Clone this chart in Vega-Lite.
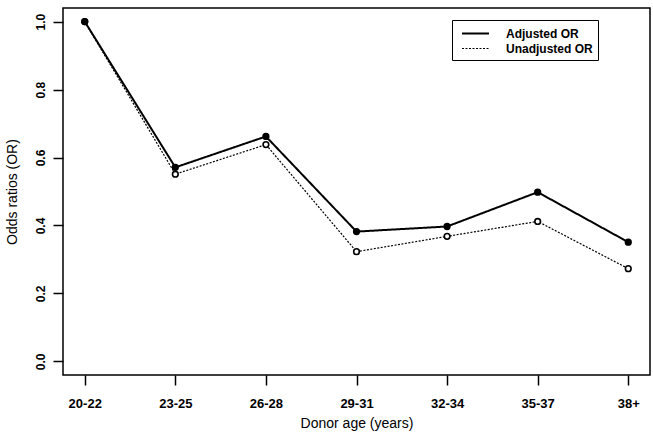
{
  "$schema": "https://vega.github.io/schema/vega-lite/v6.json",
  "width": 587,
  "height": 367,
  "autosize": {"type": "none"},
  "padding": {"left": 63, "top": 8, "right": 3, "bottom": 58},
  "background": "white",
  "config": {
    "view": {"stroke": "black", "strokeWidth": 1.5},
    "font": "Liberation Sans",
    "axis": {
      "grid": false,
      "domain": false,
      "tickColor": "black",
      "tickWidth": 1.5,
      "tickSize": 10,
      "labelColor": "black",
      "labelFont": "Liberation Sans",
      "labelFontWeight": "bold",
      "titleColor": "black",
      "titleFont": "Liberation Sans",
      "titleFontWeight": "normal",
      "titleFontSize": 14
    },
    "legend": {
      "orient": "none",
      "legendX": 389,
      "legendY": 12,
      "strokeColor": "black",
      "strokeWidth": 1,
      "fillColor": "white",
      "padding": 5,
      "rowPadding": 0,
      "symbolType": "M-1.8,0H1.8",
      "symbolSize": 225,
      "symbolStrokeColor": "black",
      "symbolOffset": 10,
      "labelFont": "Liberation Sans",
      "labelFontWeight": "bold",
      "labelFontSize": 12,
      "labelColor": "black",
      "labelOffset": 22
    }
  },
  "data": {
    "values": [
      {"age": "20-22", "series": "Adjusted OR", "or": 1.0},
      {"age": "23-25", "series": "Adjusted OR", "or": 0.571},
      {"age": "26-28", "series": "Adjusted OR", "or": 0.662},
      {"age": "29-31", "series": "Adjusted OR", "or": 0.382},
      {"age": "32-34", "series": "Adjusted OR", "or": 0.397},
      {"age": "35-37", "series": "Adjusted OR", "or": 0.498},
      {"age": "38+", "series": "Adjusted OR", "or": 0.351},
      {"age": "20-22", "series": "Unadjusted OR", "or": 1.0},
      {"age": "23-25", "series": "Unadjusted OR", "or": 0.551},
      {"age": "26-28", "series": "Unadjusted OR", "or": 0.638},
      {"age": "29-31", "series": "Unadjusted OR", "or": 0.323},
      {"age": "32-34", "series": "Unadjusted OR", "or": 0.368},
      {"age": "35-37", "series": "Unadjusted OR", "or": 0.412},
      {"age": "38+", "series": "Unadjusted OR", "or": 0.273}
    ]
  },
  "encoding": {
    "x": {
      "field": "age",
      "type": "ordinal",
      "sort": ["20-22", "23-25", "26-28", "29-31", "32-34", "35-37", "38+"],
      "scale": {"type": "point", "padding": 0.24},
      "axis": {
        "title": "Donor age (years)",
        "labelAngle": 0,
        "labelFontSize": 13,
        "labelPadding": 12,
        "titlePadding": 6
      }
    },
    "y": {
      "field": "or",
      "type": "quantitative",
      "scale": {"domain": [-0.04, 1.04], "nice": false, "zero": false},
      "axis": {
        "title": "Odds ratios (OR)",
        "values": [0, 0.2, 0.4, 0.6, 0.8, 1.0],
        "format": ".1f",
        "labelAngle": 270,
        "labelAlign": "center",
        "labelBaseline": "alphabetic",
        "labelFontSize": 12,
        "labelPadding": 9,
        "titlePadding": 15
      }
    }
  },
  "layer": [
    {
      "mark": {"type": "line", "color": "black"},
      "encoding": {
        "strokeDash": {
          "field": "series",
          "type": "nominal",
          "scale": {"domain": ["Adjusted OR", "Unadjusted OR"], "range": [[1, 0], [2, 1.5]]},
          "legend": {"title": null}
        },
        "strokeWidth": {
          "field": "series",
          "type": "nominal",
          "scale": {"domain": ["Adjusted OR", "Unadjusted OR"], "range": [2, 1.2]},
          "legend": {"title": null}
        }
      }
    },
    {
      "mark": {"type": "point", "shape": "circle", "filled": false, "stroke": "black", "strokeWidth": 1.6, "opacity": 1},
      "encoding": {
        "fill": {
          "field": "series",
          "type": "nominal",
          "scale": {"domain": ["Adjusted OR", "Unadjusted OR"], "range": ["black", "white"]},
          "legend": null
        },
        "order": {"field": "series", "sort": "descending"},
        "size": {"value": 32}
      }
    }
  ]
}
